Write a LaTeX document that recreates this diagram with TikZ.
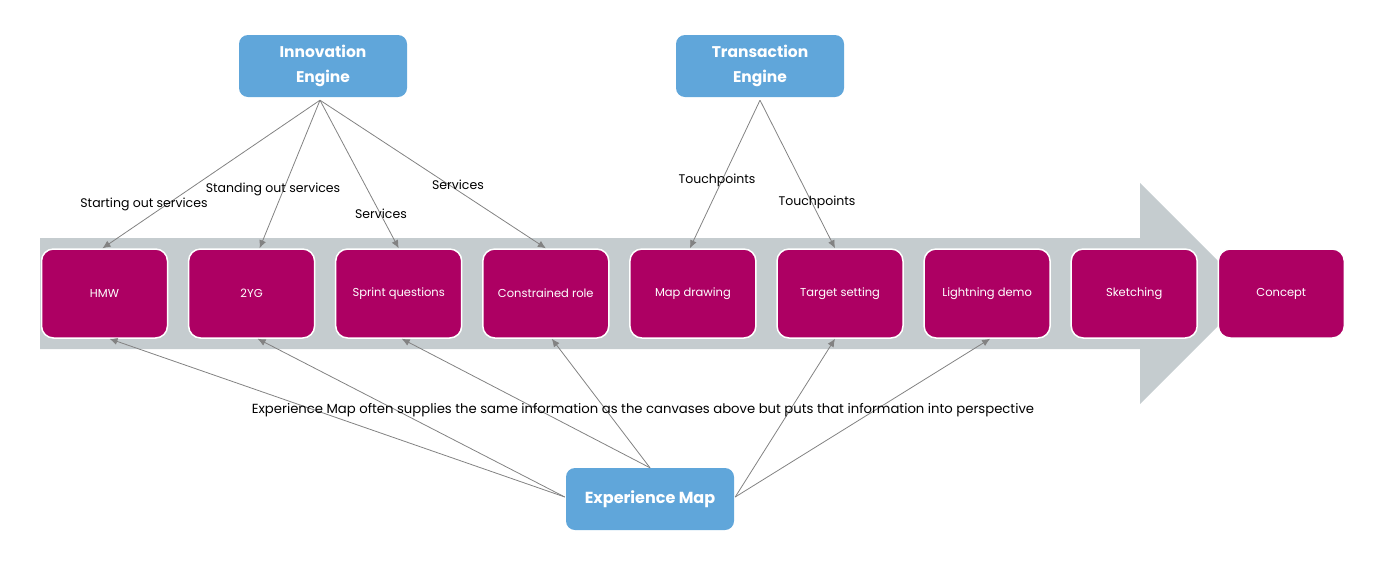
\documentclass[tikz,border=0pt]{standalone}
\usepackage{fontspec}
\setmainfont{Poppins}
\usetikzlibrary{arrows.meta}

\definecolor{stepmagenta}{RGB}{173,0,99}
\definecolor{engineblue}{RGB}{96,166,218}
\definecolor{bandgray}{RGB}{197,204,207}
\definecolor{linkgray}{RGB}{130,130,130}

\tikzset{
  stage/.style={rectangle, rounded corners=12pt, minimum width=126pt, minimum height=89pt,
    fill=stepmagenta, draw=white, line width=1.5pt, text=white,
    font=\fontsize{11.5}{14}\selectfont},
  engine/.style={rectangle, rounded corners=9pt, minimum width=168pt, minimum height=62pt,
    fill=engineblue, text=white, align=center, font=\bfseries\fontsize{15.5}{25}\selectfont},
  link/.style={draw=linkgray, line width=0.8pt, -{Latex[length=8pt,width=7pt]}},
  lbl/.style={text=black, inner sep=1pt, font=\fontsize{12.5}{15}\selectfont},
}

\begin{document}
\begin{tikzpicture}[x=1pt,y=-1pt]

  \useasboundingbox (0,0) rectangle (1386,571);

  % grey process arrow behind the stages
  \fill[bandgray] (40,238) -- (1140,238) -- (1140,183) -- (1220,263)
    -- (1220,324) -- (1140,404) -- (1140,349) -- (40,349) -- cycle;

  % the stages
  \foreach \name/\txt [count=\i from 0] in {hmw/HMW, yg/2YG, sprint/Sprint questions,
      role/Constrained role, map/Map drawing, target/Target setting,
      demo/Lightning demo, sketch/Sketching, concept/Concept}
    \node[stage] (\name) at ({104.5+147.1*\i},293.5) {\txt};

  % engines and map
  \node[engine] (ie) at (323,66) {Innovation\\Engine};
  \node[engine] (te) at (760,66) {Transaction\\Engine};
  \node[engine, font=\bfseries\fontsize{16}{20}\selectfont] (em) at (650,499) {Experience Map};

  % innovation engine links
  \draw[link] ([xshift=-3pt,yshift=-3pt]ie.south) -- ([xshift=-2pt]hmw.north);
  \draw[link] ([xshift=-3pt,yshift=-3pt]ie.south) -- ([xshift=8pt]yg.north);
  \draw[link] ([xshift=-3pt,yshift=-3pt]ie.south) -- (sprint.north);
  \draw[link] ([xshift=-3pt,yshift=-3pt]ie.south) -- (role.north);

  % transaction engine links
  \draw[link] ([yshift=-3pt]te.south) -- ([xshift=-3pt]map.north);
  \draw[link] ([yshift=-3pt]te.south) -- ([xshift=-5pt]target.north);

  % experience map links
  \draw[link] ([xshift=-1pt,yshift=2pt]em.west) -- ([xshift=5pt]hmw.south);
  \draw[link] ([xshift=-1pt,yshift=2pt]em.west) -- ([xshift=6pt]yg.south);
  \draw[link] (em.north) -- ([xshift=3pt]sprint.south);
  \draw[link] (em.north) -- ([xshift=6pt]role.south);
  \draw[link] ([xshift=1pt,yshift=2pt]em.east) -- ([xshift=-5pt]target.south);
  \draw[link] ([xshift=1pt,yshift=2pt]em.east) -- ([xshift=3pt]demo.south);

  % labels
  \node[lbl] (lstart) at (144,204) {Starting out services};
  \node[lbl] (lstand) at (273,189) {Standing out services};
  \node[lbl] (lsvca) at (381,214) {Services};
  \node[lbl] (lsvcb) at (458,185) {Services};
  \node[lbl] (ltpa) at (717,180) {Touchpoints};
  \node[lbl] (ltpb) at (817,202) {Touchpoints};
  \node[lbl, font=\fontsize{13.2}{15}\selectfont] (lnote) at (643,410)
    {Experience Map often supplies the same information as the canvases above but puts that information into perspective};

\end{tikzpicture}
\end{document}
